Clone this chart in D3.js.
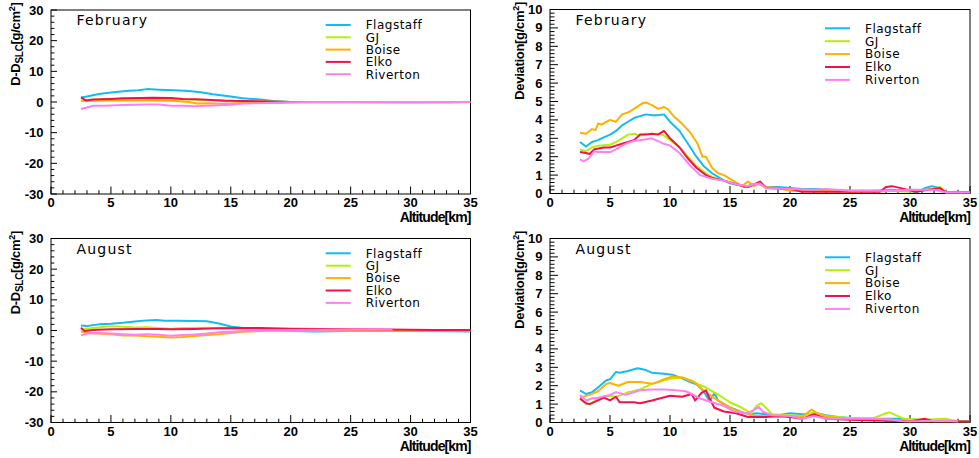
<!DOCTYPE html>
<html>
<head>
<meta charset="utf-8">
<script src="https://cdn.jsdelivr.net/npm/d3@7"></script>
<style>
  body { margin: 0; background: #fff; }
  svg { display: block; }
  .tick-label { font-family: "Liberation Sans", Arial, sans-serif; font-weight: bold; font-size: 13px; }
  .axis-title { font-family: "Liberation Sans", Arial, sans-serif; font-weight: bold; font-size: 14px; letter-spacing: -0.9px; }
  .ytitle { font-family: "Liberation Sans", Arial, sans-serif; font-weight: bold; font-size: 13px; letter-spacing: -0.3px; }
  .legend { font-family: "DejaVu Sans", sans-serif; font-size: 12px; letter-spacing: 0.5px; }
  .ptitle { font-family: "DejaVu Sans", sans-serif; font-size: 14px; letter-spacing: 1.2px; }
</style>
</head>
<body>
<svg id="chart" width="979" height="458"></svg>
<script>
// stations and colours
var stations = ['Flagstaff', 'GJ', 'Boise', 'Elko', 'Riverton'];
var colors = ['#12bcf2', '#b4f00a', '#ffb000', '#f5104a', '#ff80f2'];

// ---- February, D - D_SLC [g/cm2] ----
var febDiffFlagstaff = [[2.5,1.5],[3,1.8],[4,2.6],[5,3.1],[6.5,3.7],[7.3,3.8],[8,4.2],[9,4.0],[10.3,3.8],[11.5,3.6],[12.5,3.2],[13.5,2.5],[15,1.8],[16,1.2],[17.5,0.8],[18.5,0.3],[20,0.0],[23,-0.1],[30,-0.1],[35,0]];
var febDiffGJ = [[2.5,0.4],[3.5,0.7],[5,1.0],[6,1.0],[8,0.8],[10,0.9],[12,0.7],[14,0.6],[15,0.5],[17,0.3],[19,0.1],[20,0],[35,0]];
var febDiffBoise = [[2.5,0.3],[4,0.5],[6,0.6],[8,0.5],[10,0.4],[11.5,0],[12.2,-0.5],[13,-0.4],[14,-0.6],[15,-0.5],[17,-0.2],[18,-0.3],[19,-0.3],[21,-0.1],[25,0],[29,-0.2],[33,-0.2],[35,0]];
var febDiffElko = [[2.5,1.5],[2.9,0.5],[3.5,0.8],[5,1.0],[6,1.2],[7.5,1.3],[8.5,1.4],[10,1.3],[11,1.0],[12,0.9],[13,0.7],[14.5,0.4],[16,0.3],[18,0.2],[20,0],[35,0]];
var febDiffRiverton = [[2.5,-2.3],[3,-1.8],[3.5,-1.2],[4.5,-1.2],[6,-1.0],[7,-0.9],[8,-0.8],[9,-0.8],[10,-1.2],[11,-1.2],[12,-1.4],[13,-1.2],[15,-0.9],[16,-0.5],[18,-0.3],[20,-0.1],[22,0],[35,0]];

// ---- February, deviation [g/cm2] ----
var febDevFlagstaff = [[2.5,2.8],[3,2.55],[3.5,2.8],[4,2.9],[4.3,3.0],[5,3.2],[5.5,3.4],[6,3.7],[6.5,3.9],[7,4.1],[8,4.3],[8.5,4.25],[9,4.25],[9.5,4.3],[10,3.9],[10.8,3.4],[11.5,2.7],[12.2,2.0],[12.8,1.5],[13.5,1.1],[14,0.9],[14.5,0.7],[15,0.55],[15.8,0.45],[16.2,0.35],[16.7,0.45],[17.3,0.55],[17.6,0.45],[18,0.35],[19,0.35],[20,0.3],[21,0.25],[22,0.25],[23,0.2],[25,0.15],[27,0.15],[28.5,0.2],[30,0.15],[30.5,0.05],[31.3,0.3],[31.8,0.4],[32.5,0.3],[33,0.05],[35,0.05]];
var febDevGJ = [[2.5,2.4],[3,2.3],[3.5,2.5],[4,2.6],[5,2.65],[5.5,2.8],[6,3.0],[6.5,3.2],[7,3.25],[7.5,3.15],[8,3.25],[9,3.25],[9.5,3.15],[10,2.9],[10.8,2.5],[11.5,2.0],[12.2,1.5],[13,1.1],[13.5,0.9],[14.5,0.7],[15.5,0.5],[16,0.4],[17,0.45],[17.5,0.5],[18,0.3],[19,0.3],[20,0.2],[21,0.15],[28,0.15],[30,0.1],[31.5,0.2],[32.5,0.35],[33,0.05],[35,0.05]];
var febDevBoise = [[2.5,3.3],[3,3.25],[3.5,3.5],[3.8,3.45],[4,3.8],[4.3,3.75],[5,4.0],[5.5,3.9],[6,4.3],[6.5,4.4],[7,4.6],[7.7,4.9],[8,4.95],[8.5,4.8],[9,4.6],[9.5,4.7],[9.8,4.6],[10.3,4.2],[11,3.8],[11.7,3.3],[12.3,2.7],[12.7,2.0],[13,2.0],[13.5,1.4],[14,1.1],[14.5,1.0],[15,0.8],[15.5,0.6],[16,0.4],[16.5,0.65],[17,0.4],[17.5,0.6],[18,0.35],[19,0.3],[20,0.15],[25,0.1],[30,0.15],[31.5,0.2],[32.5,0.3],[33,0.05],[35,0.05]];
var febDevElko = [[2.5,2.25],[3,2.2],[3.3,2.15],[3.7,2.4],[4.5,2.5],[5,2.5],[5.5,2.6],[6,2.7],[6.5,2.8],[7,2.9],[7.5,3.2],[8,3.2],[8.5,3.25],[9,3.2],[9.5,3.4],[10,3.0],[10.8,2.5],[11.5,1.9],[12.2,1.4],[13,1.0],[13.5,0.85],[14.5,0.7],[15.5,0.5],[16.5,0.35],[17,0.5],[17.5,0.65],[18,0.3],[20,0.25],[21,0.1],[25,0.1],[27.5,0.1],[28,0.35],[28.5,0.4],[29.5,0.25],[30.5,0.1],[31.5,0.2],[32.5,0.3],[33,0.05],[35,0.05]];
var febDevRiverton = [[2.5,1.85],[2.8,1.75],[3.2,1.9],[3.7,2.3],[4,2.25],[5,2.25],[5.5,2.4],[6,2.6],[6.5,2.75],[7,2.85],[8,2.95],[8.5,3.0],[9,2.85],[9.5,2.7],[10,2.6],[10.8,2.2],[11.7,1.5],[12.5,1.0],[13.5,0.8],[14.5,0.7],[15.5,0.5],[16.5,0.4],[17,0.5],[17.5,0.55],[18,0.3],[20,0.25],[22,0.2],[23,0.25],[25,0.15],[28,0.15],[30,0.2],[32,0.2],[33,0.05],[35,0.05]];

// ---- August, D - D_SLC [g/cm2] ----
var augDiffFlagstaff = [[2.5,1.6],[3,1.5],[4,2.0],[5,2.2],[6,2.5],[7,2.9],[8,3.3],[8.8,3.4],[9.5,3.2],[10.5,3.2],[12,3.1],[13,3.0],[14,2.3],[15,1.3],[16,0.8],[17.5,0.4],[19,0],[20,-0.2],[22,-0.3],[25,-0.2],[30,-0.2],[35,-0.3]];
var augDiffGJ = [[2.5,0.3],[3.5,0.8],[4.5,1.2],[5,1.4],[6,1.2],[7,1.0],[8,1.1],[9,0.8],[10,0.6],[11,0.8],[13,0.9],[14,0.7],[16,0.3],[17.5,0.1],[19,0],[35,0]];
var augDiffBoise = [[2.5,-0.3],[3.3,-0.9],[4,-1.0],[5,-1.2],[6,-1.6],[7,-1.6],[8,-1.9],[9,-2.0],[10,-2.3],[11,-2.1],[12,-1.8],[13,-1.5],[14,-1.2],[15,-0.8],[16,-0.4],[18,-0.1],[20,0],[25,0.1],[35,0]];
var augDiffElko = [[2.5,0.9],[2.8,-0.2],[3.5,0.2],[5,0.4],[7,0.5],[9,0.5],[10,0.4],[12,0.5],[14,0.7],[16,0.8],[17.5,0.8],[20,0.6],[25,0.4],[28,0.3],[32,0.2],[35,0.2]];
var augDiffRiverton = [[2.5,-1.6],[3,-1.0],[4,-0.8],[5,-1.0],[6,-1.2],[7,-1.4],[8,-1.2],[9,-1.4],[10,-1.7],[11,-1.5],[12,-1.3],[13,-1.0],[14,-0.6],[15,-0.4],[17,-0.1],[18,0],[20,0.2],[25,0.3],[28.5,0.3]];

// ---- August, deviation [g/cm2] ----
var augDevFlagstaff = [[2.5,1.75],[3,1.55],[3.5,1.65],[4,1.9],[4.7,2.3],[5,2.35],[5.5,2.75],[5.8,2.7],[6.5,2.8],[7.3,2.95],[8,2.85],[8.5,2.7],[9.5,2.65],[10.2,2.6],[11,2.4],[11.7,2.2],[12.3,2.05],[12.8,1.7],[13.3,1.15],[13.7,1.6],[14,1.2],[14.7,0.9],[15.5,0.7],[16,0.55],[16.8,0.45],[17.2,0.5],[18,0.45],[19,0.4],[20,0.5],[21,0.45],[21.7,0.45],[22,0.55],[23,0.4],[24,0.3],[25,0.25],[26,0.25],[27.5,0.2],[29,0.2],[30.5,0.15],[32,0.1],[35,0.05]];
var augDevGJ = [[2.5,1.3],[3,1.0],[3.5,1.05],[4,1.3],[4.5,1.4],[5,1.45],[5.5,1.4],[6,1.5],[6.5,1.65],[7.5,1.8],[8.5,2.1],[9.5,2.3],[10.2,2.4],[11,2.45],[11.7,2.3],[12.3,2.1],[13,1.9],[13.5,1.7],[14.3,1.4],[15,1.1],[16,0.8],[16.8,0.5],[17.2,0.9],[17.6,1.05],[18,0.8],[18.5,0.45],[20,0.4],[21,0.35],[22,0.55],[23,0.35],[25,0.25],[27,0.25],[28,0.5],[28.3,0.55],[29.5,0.2],[31,0.15],[33,0.2],[34,0.05]];
var augDevBoise = [[2.5,1.35],[3.3,1.5],[4,1.7],[4.7,2.1],[5,2.15],[5.7,2.0],[6.5,2.2],[7.5,2.2],[8.5,2.1],[9,2.2],[9.5,2.35],[10.2,2.5],[11,2.45],[12,2.2],[12.5,1.9],[13.2,1.55],[14,1.2],[14.8,0.9],[15.5,0.65],[16.3,0.5],[17,0.35],[18,0.35],[19,0.3],[20,0.35],[21,0.3],[21.8,0.7],[22.3,0.5],[23,0.3],[25,0.2],[27,0.15],[28.5,0.15],[30,0.05],[35,0.05]];
var augDevElko = [[2.5,1.3],[3,1.05],[3.3,1.0],[4,1.2],[4.5,1.35],[5,1.2],[5.5,1.4],[5.8,1.1],[7,1.1],[7.5,1.05],[8.5,1.2],[10,1.45],[11,1.4],[11.8,1.55],[12.1,1.2],[12.6,1.6],[13,1.75],[13.3,1.3],[13.7,0.8],[14.5,0.6],[15.5,0.5],[16.5,0.3],[18,0.3],[19,0.35],[20,0.3],[21,0.2],[22,0.45],[23,0.2],[25,0.15],[28,0.1],[30,0.05],[31.2,0.2],[32,0.05],[35,0.05]];
var augDevRiverton = [[2.5,1.5],[3,1.2],[3.5,1.3],[4,1.35],[5,1.5],[5.5,1.65],[6.3,1.5],[6.5,1.55],[7.5,1.75],[8.5,1.8],[9.5,1.8],[10.5,1.75],[11.3,1.7],[11.8,1.55],[12.5,1.3],[13.5,1.1],[14.5,0.9],[15.3,0.6],[16.5,0.5],[17.4,0.85],[17.7,0.6],[18.5,0.4],[20,0.35],[21,0.2],[22,0.35],[23,0.2],[25,0.2],[27,0.2],[28.5,0.15],[29.5,0.05],[33,0.1],[34,0.05]];

// panel titles and axis ticks
var monthNames = ['February', 'August'];
var diffTicks = [-30, -20, -10, 0, 10, 20, 30];
var devTicks = [0, 1, 2, 3, 4, 5, 6, 7, 8, 9, 10];
var altTicks = [0, 5, 10, 15, 20, 25, 30, 35];

var panels = [
  { x0: 51, x1: 470.5, y0: 10, y1: 194, title: monthNames[0], kind: 'diff',
    series: [febDiffFlagstaff, febDiffGJ, febDiffBoise, febDiffElko, febDiffRiverton],
    legX: 325.7, legY: 25, legStep: 12.3 },
  { x0: 550, x1: 970, y0: 9.5, y1: 193.5, title: monthNames[0], kind: 'dev',
    series: [febDevFlagstaff, febDevGJ, febDevBoise, febDevElko, febDevRiverton],
    legX: 825, legY: 28.3, legStep: 12.9 },
  { x0: 51, x1: 470.5, y0: 238.5, y1: 422.5, title: monthNames[1], kind: 'diff',
    series: [augDiffFlagstaff, augDiffGJ, augDiffBoise, augDiffElko, augDiffRiverton],
    legX: 325.7, legY: 253.3, legStep: 12.4 },
  { x0: 550, x1: 970, y0: 238.5, y1: 422.5, title: monthNames[1], kind: 'dev',
    series: [augDevFlagstaff, augDevGJ, augDevBoise, augDevElko, augDevRiverton],
    legX: 825, legY: 257.3, legStep: 12.9 }
];

var svg = d3.select('#chart');

panels.forEach(function(p, pi) {
  var isDiff = p.kind === 'diff';
  var x = d3.scaleLinear().domain([0, 35]).range([p.x0, p.x1]);
  var y = d3.scaleLinear().domain(isDiff ? [-30, 30] : [0, 10]).range([p.y1, p.y0]);
  var g = svg.append('g');

  // clip
  g.append('clipPath').attr('id', 'clip' + pi)
    .append('rect').attr('x', p.x0).attr('y', p.y0)
    .attr('width', p.x1 - p.x0).attr('height', p.y1 - p.y0);

  // frame
  g.append('rect').attr('x', p.x0).attr('y', p.y0)
    .attr('width', p.x1 - p.x0).attr('height', p.y1 - p.y0)
    .style('fill', 'none').style('stroke', '#000').style('stroke-width', 1);

  // x ticks: major every 5, minor every 1, drawn inward
  d3.range(0, 36, 1).forEach(function(v) {
    var major = v % 5 === 0;
    g.append('line').attr('x1', x(v)).attr('x2', x(v))
      .attr('y1', p.y1).attr('y2', p.y1 - (major ? 7.5 : 3.8))
      .style('stroke', '#000').style('stroke-width', 1);
  });
  g.selectAll('.xl').data(altTicks).enter().append('text')
    .attr('class', 'tick-label')
    .attr('x', function(d) { return x(d); })
    .attr('y', p.y1 + 13.2)
    .attr('text-anchor', 'middle')
    .text(function(d) { return d; });

  // y ticks
  var minorStep = isDiff ? 2 : 0.2;
  var yMax = isDiff ? 30 : 10, yMin = isDiff ? -30 : 0;
  var majLen = isDiff ? 6 : 8, minLen = isDiff ? 3.3 : 4.5;
  d3.range(0, Math.round((yMax - yMin) / minorStep) + 1).forEach(function(i) {
    var v = yMin + i * minorStep;
    var major = i % 5 === 0;
    g.append('line').attr('x1', p.x0).attr('x2', p.x0 + (major ? majLen : minLen))
      .attr('y1', y(v)).attr('y2', y(v))
      .style('stroke', '#000').style('stroke-width', 1);
  });
  g.selectAll('.yl').data(isDiff ? diffTicks : devTicks).enter().append('text')
    .attr('class', 'tick-label')
    .attr('x', p.x0 - 7.5)
    .attr('y', function(d) { return y(d) + 4.5; })
    .attr('text-anchor', 'end')
    .text(function(d) { return d; });

  // x title
  g.append('text').attr('class', 'axis-title')
    .attr('x', p.x1).attr('y', p.y1 + 28.3)
    .attr('text-anchor', 'end').text('Altitude[km]');

  // y title (rotated)
  var yt = g.append('text').attr('class', 'ytitle')
    .attr('text-anchor', 'end')
    .attr('transform', 'translate(' + (isDiff ? p.x0 - 31 : p.x0 - 26.5) + ',' + (p.y0 - 7.5) + ') rotate(-90)');
  if (isDiff) {
    yt.append('tspan').text('D-D');
    yt.append('tspan').attr('dy', 3).style('font-size', '10px').text('SLC');
    yt.append('tspan').attr('dy', -3).text('[g/cm');
  } else {
    yt.append('tspan').text('Deviation[g/cm');
  }
  yt.append('tspan').attr('dy', -5).style('font-size', '9px').text('2');
  yt.append('tspan').attr('dy', 5).text(']');

  // panel title
  g.append('text').attr('class', 'ptitle')
    .attr('x', p.x0 + 25.5).attr('y', p.y0 + 15.3)
    .text(p.title);

  // curves
  var line = d3.line().x(function(d) { return x(d[0]); }).y(function(d) { return y(d[1]); });
  g.append('g').attr('clip-path', 'url(#clip' + pi + ')')
    .selectAll('path').data(p.series).enter().append('path')
    .attr('d', line)
    .style('fill', 'none')
    .style('stroke', function(d, i) { return colors[i]; })
    .style('stroke-width', 2)
    .style('stroke-linejoin', 'round');

  // legend
  stations.forEach(function(s, i) {
    var ly = p.legY + i * p.legStep;
    g.append('line').attr('x1', p.legX).attr('x2', p.legX + 25)
      .attr('y1', ly).attr('y2', ly)
      .style('stroke', colors[i]).style('stroke-width', 2);
    g.append('text').attr('class', 'legend')
      .attr('x', p.legX + 40).attr('y', ly + 4.3)
      .text(s);
  });
});
</script>
</body>
</html>
